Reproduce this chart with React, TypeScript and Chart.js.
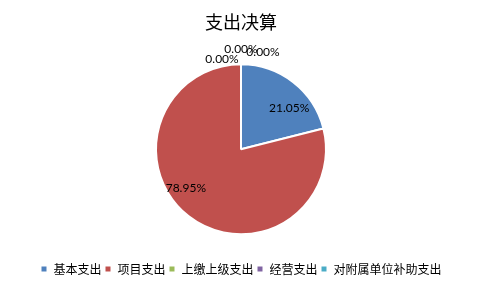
import React, { useEffect, useRef } from "react";
import { Chart, registerables } from "chart.js";

Chart.register(...registerables);

const categories = ["基本支出", "项目支出", "上缴上级支出", "经营支出", "对附属单位补助支出"];
const values = [21.05, 78.95, 0, 0, 0];
const labelTexts = ["21.05%", "78.95%", "0.00%", "0.00%", "0.00%"];
const colors = ["#4F81BD", "#C0504D", "#9BBB59", "#8064A2", "#4BACC6"];

// label placement: [radius fraction, dx, dy] relative to slice mid-angle
const labelLayout: [number, number, number][] = [
  [0.75, 9, 9],
  [0.75, -16, -11],
  [1.1, -19, 3],
  [1.1, 0, -7],
  [1.1, 22, -4],
];

const labelPlugin = {
  id: "sliceLabels",
  afterDatasetsDraw(chart: any) {
    const meta = chart.getDatasetMeta(0);
    const ctx = chart.ctx;
    ctx.save();
    ctx.font = '12px "Lato", "Noto Sans", sans-serif';
    ctx.fillStyle = "#000";
    ctx.textAlign = "center";
    ctx.textBaseline = "middle";
    meta.data.forEach((arc: any, i: number) => {
      const p = arc.getProps(["x", "y", "startAngle", "endAngle", "outerRadius"], true);
      const mid = (p.startAngle + p.endAngle) / 2;
      const [f, dx, dy] = labelLayout[i];
      const x = p.x + Math.cos(mid) * p.outerRadius * f + dx;
      const y = p.y + Math.sin(mid) * p.outerRadius * f + dy;
      ctx.fillText(labelTexts[i], x, y);
    });
    ctx.restore();
  },
};

export default function App() {
  const ref = useRef<HTMLCanvasElement>(null);
  useEffect(() => {
    document.body.style.margin = "0";
    const chart = new Chart(ref.current!, {
      type: "pie",
      data: {
        labels: categories,
        datasets: [
          {
            data: values,
            backgroundColor: colors,
            borderColor: "#fff",
            borderWidth: 2,
            radius: 85,
          } as any,
        ],
      },
      options: {
        animation: false,
        responsive: false,
        layout: { padding: { top: 1, bottom: 5, left: 0, right: 0 } },
        plugins: {
          title: {
            display: true,
            text: "支出决算",
            color: "#000",
            font: { size: 18, family: '"Noto Sans CJK SC", sans-serif', weight: "normal" },
            padding: { top: 10, bottom: 6 },
          },
          legend: {
            position: "bottom",
            labels: {
              color: "#000",
              boxWidth: 7,
              boxHeight: 7,
              padding: 3,
              font: { size: 12, family: '"Noto Sans CJK SC", sans-serif' },
            },
          },
          tooltip: { enabled: false },
        },
      },
      plugins: [labelPlugin],
    });
    return () => chart.destroy();
  }, []);
  return (
    <div style={{ width: 482, height: 290, background: "#fff" }}>
      <canvas ref={ref} width={482} height={290} />
    </div>
  );
}
